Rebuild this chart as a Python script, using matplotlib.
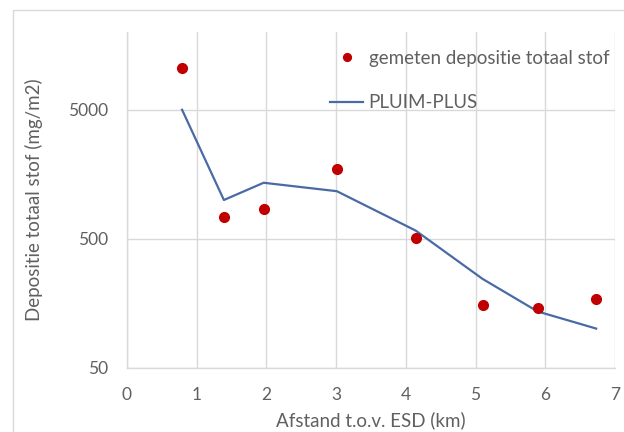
import matplotlib
matplotlib.use("Agg")
import matplotlib.pyplot as plt
from matplotlib.patches import Rectangle
from matplotlib.ticker import FixedLocator, NullLocator

# afstand tot de bron (km) en gemeten depositie (mg/m2)
afstand_meting = [0.79, 1.39, 1.96, 3.01, 4.14, 5.10, 5.89, 6.73]
depositie_meting = [10500, 740, 850, 1730, 510, 154, 145, 171]

# modelresultaten PLUIM-PLUS op dezelfde afstanden
afstand_model = [0.79, 1.39, 1.96, 3.01, 4.14, 5.10, 5.89, 6.73]
depositie_model = [5000, 1000, 1360, 1170, 580, 245, 137, 101]

y_ticks = [50, 500, 5000]
y_tick_labels = ["50", "500", "5000"]
x_ticks = [0, 1, 2, 3, 4, 5, 6, 7]

plt.rcParams['font.family'] = ['Lato', 'DejaVu Sans']
tekstkleur = '#606060'
rasterkleur = '#d9d9d9'

fig = plt.figure(figsize=(6.24, 4.32), dpi=100)
ax = fig.add_axes([127 / 624, 1 - 368 / 432, 488 / 624, 336 / 432])

# kader rond de grafiek
fig.patches.append(Rectangle((13 / 624, -0.1), 1.2, 1 - 10 / 432 + 0.1,
                             transform=fig.transFigure, fill=False,
                             edgecolor='#d9d9d9', linewidth=1.0))

ax.set_yscale('log')
ax.set_xlim(0, 7)
ax.set_ylim(50, 20000)

ax.plot(afstand_model, depositie_model, color='#4a6aa5', linewidth=1.6,
        label='PLUIM-PLUS', zorder=3)
ax.plot(afstand_meting, depositie_meting, linestyle='none', marker='o',
        markersize=7, color='#c00000', label='gemeten depositie totaal stof',
        zorder=4)

ax.yaxis.set_major_locator(FixedLocator(y_ticks))
ax.yaxis.set_minor_locator(NullLocator())
ax.set_yticklabels(y_tick_labels)
ax.set_xticks(x_ticks)

ax.grid(True, color=rasterkleur, linewidth=1.0)
ax.set_axisbelow(True)
for s in ['top', 'right']:
    ax.spines[s].set_visible(False)
for s in ['left', 'bottom']:
    ax.spines[s].set_color(rasterkleur)
    ax.spines[s].set_linewidth(1.0)

ax.tick_params(length=0, labelsize=12.5, colors=tekstkleur, pad=13.5)
ax.set_xlabel('Afstand t.o.v. ESD (km)', fontsize=13.5, color=tekstkleur,
              labelpad=6)
ax.set_ylabel('Depositie totaal stof (mg/m2)', fontsize=13.5, color=tekstkleur,
              labelpad=18)

handles, labels = ax.get_legend_handles_labels()
leg = ax.legend(handles[::-1], labels[::-1], loc='upper left',
                bbox_to_anchor=((330 - 127) / 488, (368 - 50) / 336),
                frameon=False, fontsize=13.5, borderpad=0, borderaxespad=0,
                handlelength=1.76, handletextpad=0.3, labelspacing=1.45,
                markerscale=0.8)
for t in leg.get_texts():
    t.set_color(tekstkleur)

fig.savefig('out.png', dpi=100)
